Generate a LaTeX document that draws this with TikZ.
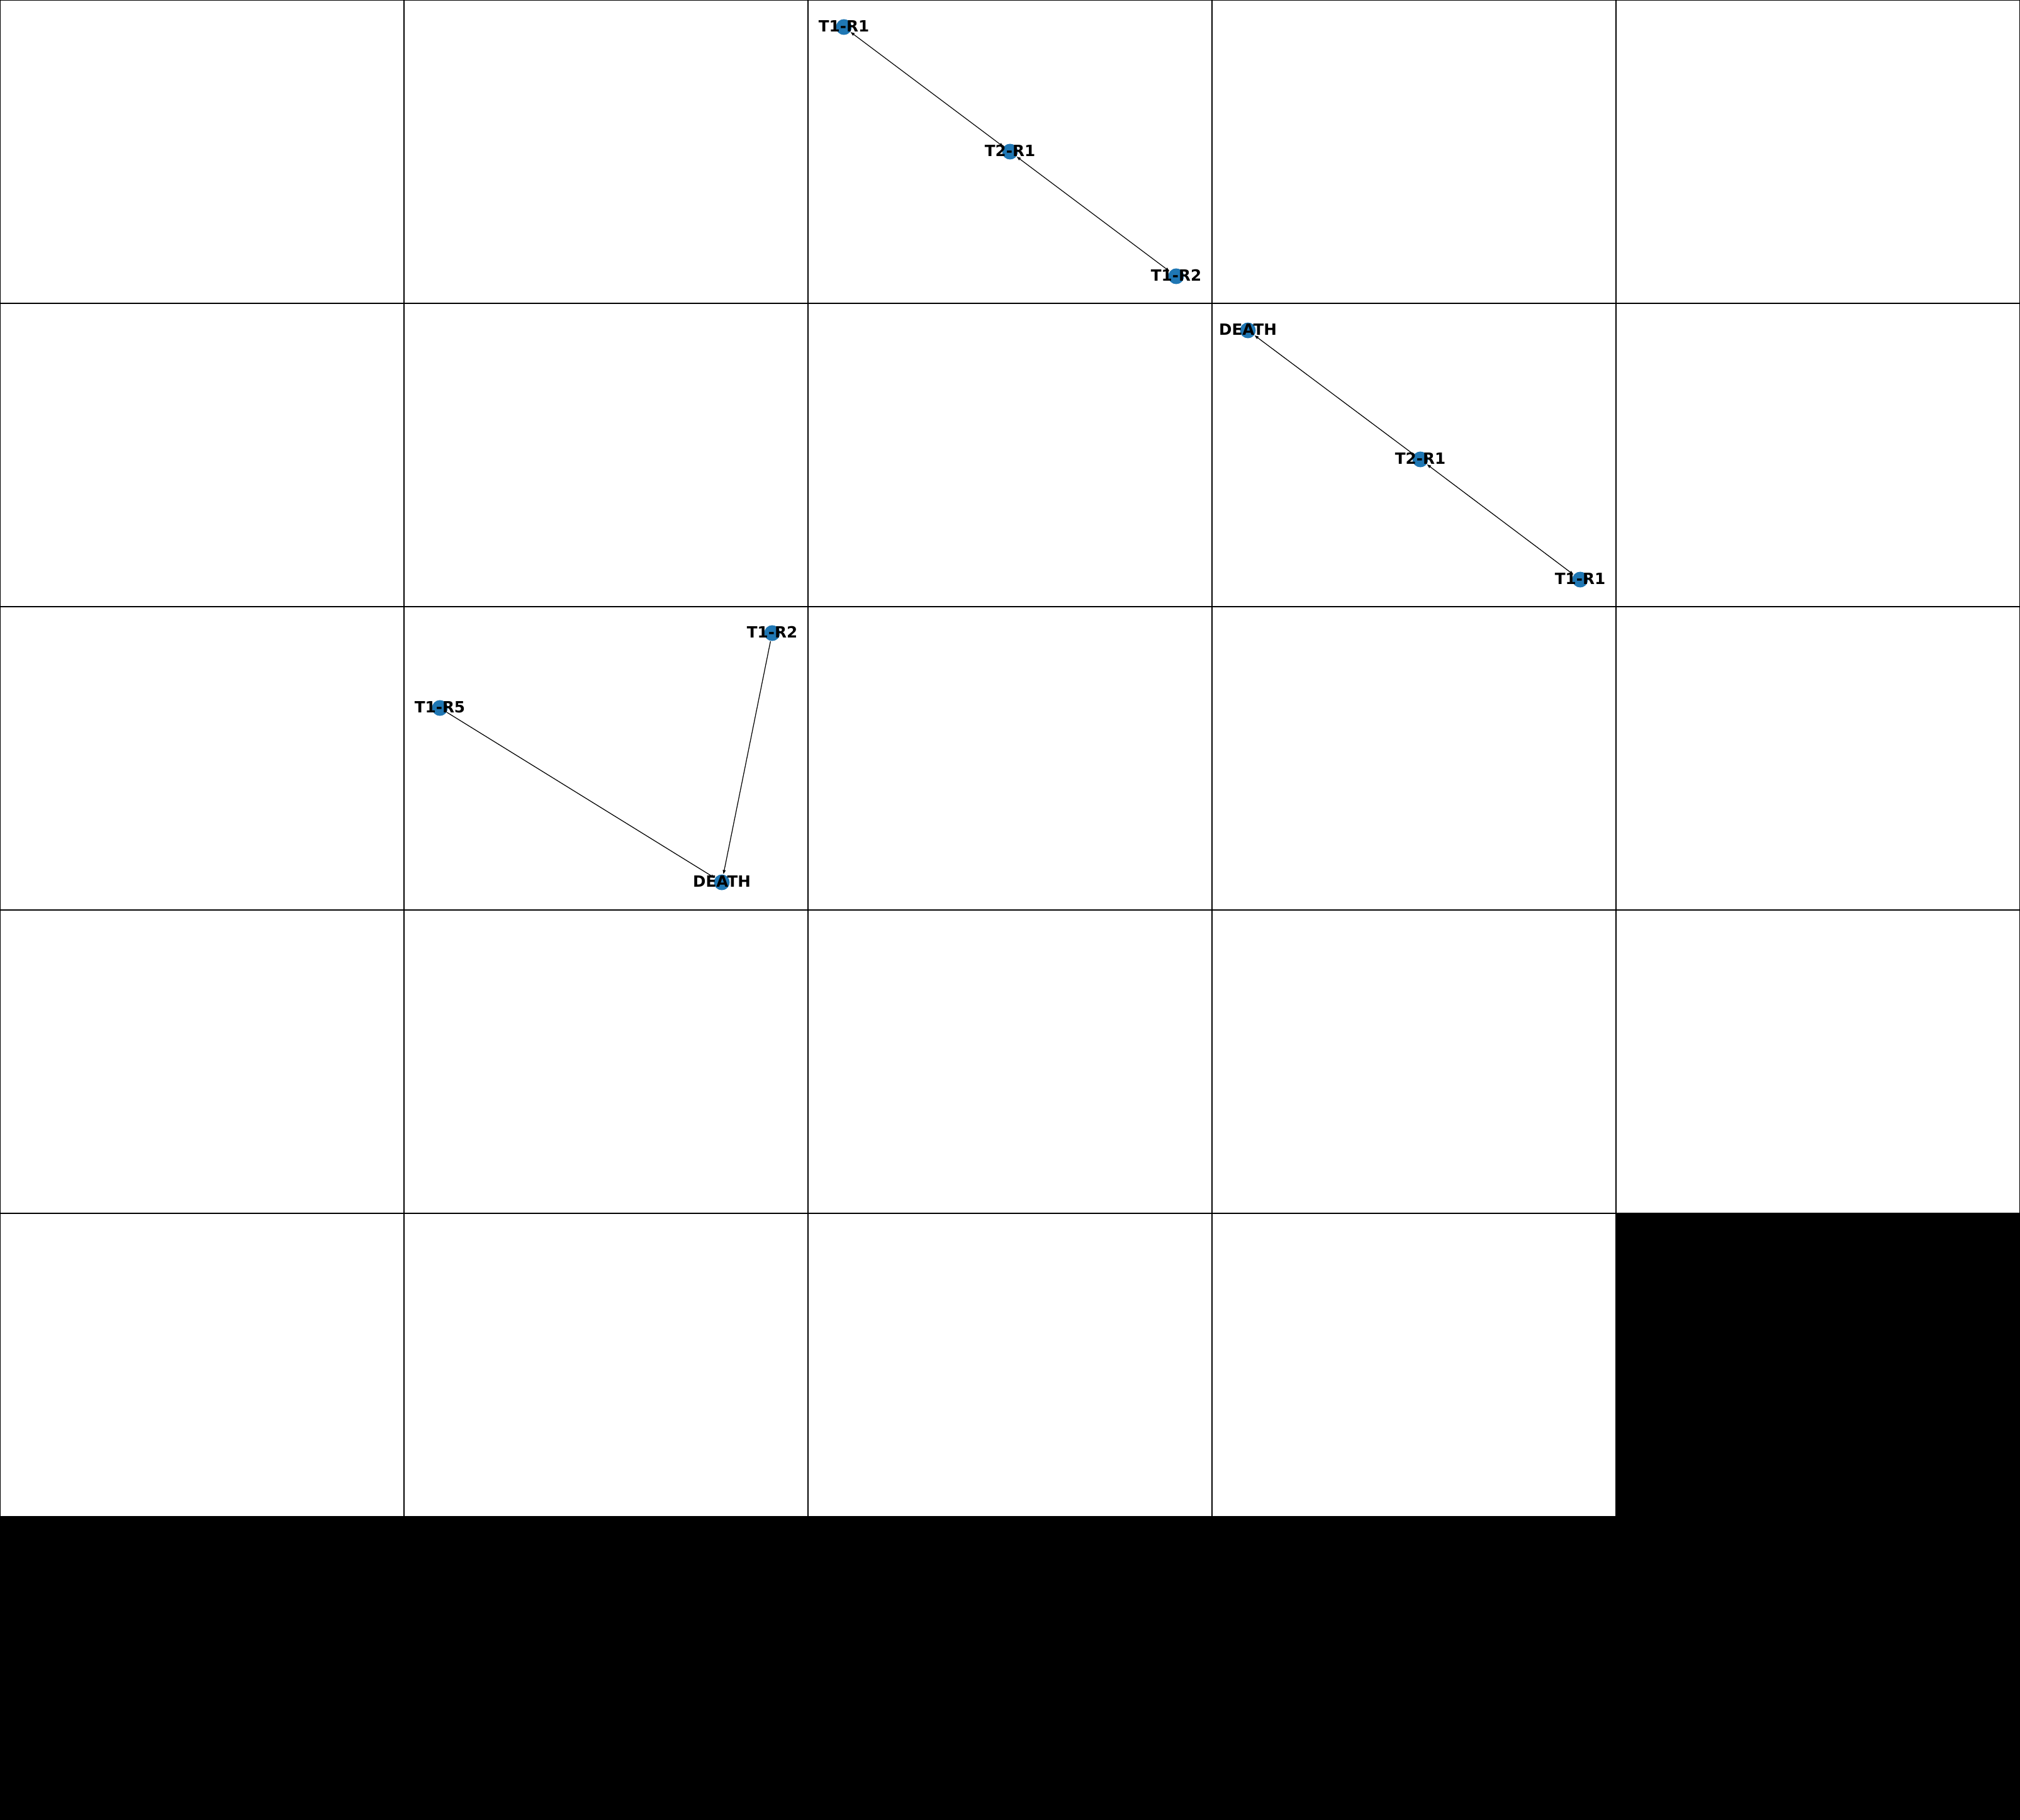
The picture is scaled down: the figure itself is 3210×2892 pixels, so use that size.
\documentclass[tikz,border=0pt]{standalone}
\usepackage{fontspec}
\setmainfont{DejaVu Sans}
\usepackage{tikz}
\usetikzlibrary{arrows.meta}
\definecolor{nodeblue}{HTML}{1F77B4}

\begin{document}
\begin{tikzpicture}[
    x=0.01cm, y=-0.01cm,
    every node/.style={font=\bfseries\fontsize{7}{8}\selectfont},
    dot/.style={circle, fill=nodeblue, minimum size=0.25cm, inner sep=0pt},
    lbl/.style={inner sep=0pt, yshift=0.15mm},
    frame/.style={draw=black, line width=0.6pt},
    >={Triangle[length=0.65mm, width=0.45mm]},
    arr/.style={->, line width=0.35pt, black}
  ]
    \useasboundingbox (0,0) rectangle (3210,2892);
    % panel frames
    \foreach \r in {0,...,4}
      \foreach \c in {0,...,4}
        \draw[frame] (\c*642,\r*482) rectangle ++(642,482);
    \fill[black] (0,2410) rectangle (3210,2892);
    \fill[black] (2568,1928) rectangle (3210,2410);
    % first graph
    \node[dot] (t1r1a) at (1341,43) {};
    \node[dot] (t2r1a) at (1605,241) {};
    \node[dot] (t1r2a) at (1869,439) {};
    % second graph
    \node[dot] (deathb) at (1983,525) {};
    \node[dot] (t2r1b) at (2257,730) {};
    \node[dot] (t1r1b) at (2511,921) {};
    % third graph
    \node[dot] (t1r2c) at (1227,1006) {};
    \node[dot] (t1r5c) at (699,1125) {};
    \node[dot] (deathc) at (1147,1402) {};
    \draw[arr, <->] (t1r1a) -- (t2r1a);
    \draw[arr, <->] (t2r1a) -- (t1r2a);
    \draw[arr] (t2r1b) -- (deathb);
    \draw[arr, <->] (t2r1b) -- (t1r1b);
    \draw[arr] (t1r5c) -- (deathc);
    \draw[arr] (t1r2c) -- (deathc);
    \node[lbl] at (t1r1a) {T1-R1};
    \node[lbl] at (t2r1a) {T2-R1};
    \node[lbl] at (t1r2a) {T1-R2};
    \node[lbl] at (deathb) {DEATH};
    \node[lbl] at (t2r1b) {T2-R1};
    \node[lbl] at (t1r1b) {T1-R1};
    \node[lbl] at (t1r2c) {T1-R2};
    \node[lbl] at (t1r5c) {T1-R5};
    \node[lbl] at (deathc) {DEATH};
  \end{tikzpicture}
\end{document}
